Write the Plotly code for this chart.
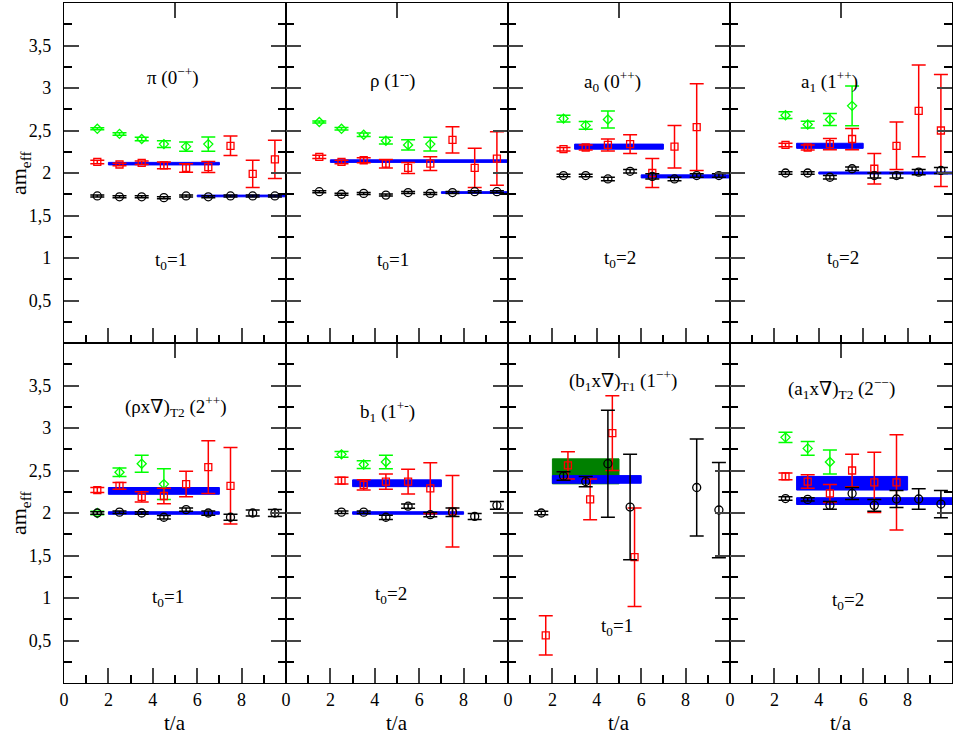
import plotly.graph_objects as go
from plotly.subplots import make_subplots

# --- data: t/a, am_eff, error ---
t_full = [1.5, 2.5, 3.5, 4.5, 5.5, 6.5, 7.5, 8.5, 9.5]
t_from2 = [2.5, 3.5, 4.5, 5.5, 6.5, 7.5, 8.5, 9.5]

# pi (0-+)
pi_black = [1.73, 1.72, 1.72, 1.71, 1.73, 1.72, 1.73, 1.73, 1.73]
pi_black_err = [0.012, 0.012, 0.012, 0.012, 0.012, 0.012, 0.012, 0.012, 0.012]
pi_red = [2.13, 2.10, 2.12, 2.09, 2.06, 2.07, 2.32, 1.99, 2.16]
pi_red_err = [0.02, 0.015, 0.02, 0.04, 0.05, 0.065, 0.115, 0.16, 0.225]
pi_green_t = [1.5, 2.5, 3.5, 4.5, 5.5, 6.5]
pi_green = [2.52, 2.46, 2.40, 2.34, 2.31, 2.34]
pi_green_err = [0.012, 0.015, 0.02, 0.04, 0.055, 0.085]

# rho (1--)
rho_black = [1.78, 1.75, 1.76, 1.74, 1.77, 1.76, 1.77, 1.78, 1.78]
rho_black_err = [0.012, 0.012, 0.012, 0.012, 0.012, 0.012, 0.012, 0.012, 0.012]
rho_red = [2.19, 2.13, 2.15, 2.11, 2.06, 2.11, 2.39, 2.06, 2.17]
rho_red_err = [0.02, 0.02, 0.03, 0.05, 0.065, 0.08, 0.155, 0.23, 0.315]
rho_green_t = [1.5, 2.5, 3.5, 4.5, 5.5, 6.5]
rho_green = [2.60, 2.52, 2.45, 2.38, 2.33, 2.34]
rho_green_err = [0.012, 0.015, 0.02, 0.04, 0.06, 0.08]

# a0 (0++)
a0_black = [1.97, 1.97, 1.93, 2.02, 1.96, 1.93, 1.97, 1.97]
a0_black_err = [0.015, 0.015, 0.02, 0.02, 0.03, 0.02, 0.02, 0.02]
a0_red_t = [2.5, 3.5, 4.5, 5.5, 6.5, 7.5, 8.5]
a0_red = [2.28, 2.30, 2.33, 2.34, 2.00, 2.31, 2.54]
a0_red_err = [0.02, 0.03, 0.07, 0.11, 0.17, 0.25, 0.51]
a0_green_t = [2.5, 3.5, 4.5]
a0_green = [2.64, 2.56, 2.63]
a0_green_err = [0.04, 0.045, 0.1]

# a1 (1++)
a1_black = [2.00, 2.00, 1.95, 2.05, 1.97, 1.97, 2.01, 2.03]
a1_black_err = [0.015, 0.015, 0.02, 0.02, 0.03, 0.03, 0.03, 0.035]
a1_red = [2.33, 2.30, 2.34, 2.40, 2.05, 2.32, 2.73, 2.50]
a1_red_err = [0.02, 0.03, 0.065, 0.125, 0.18, 0.28, 0.54, 0.66]
a1_green_t = [2.5, 3.5, 4.5, 5.5]
a1_green = [2.68, 2.57, 2.63, 2.79]
a1_green_err = [0.04, 0.04, 0.07, 0.235]

# (rho x nabla)_T2 (2++)
rn_black = [2.00, 2.01, 2.00, 1.95, 2.04, 2.00, 1.95, 2.00, 2.00]
rn_black_err = [0.015, 0.015, 0.015, 0.02, 0.02, 0.025, 0.035, 0.035, 0.04]
rn_red_t = [1.5, 2.5, 3.5, 4.5, 5.5, 6.5, 7.5]
rn_red = [2.27, 2.32, 2.19, 2.20, 2.34, 2.54, 2.32]
rn_red_err = [0.03, 0.04, 0.06, 0.09, 0.15, 0.31, 0.45]
rn_green_t = [1.5, 2.5, 3.5, 4.5]
rn_green = [2.00, 2.48, 2.58, 2.34]
rn_green_err = [0.02, 0.05, 0.1, 0.18]

# b1 (1+-)
b1_black = [2.01, 2.01, 1.95, 2.08, 1.98, 2.01, 1.96, 2.09]
b1_black_err = [0.015, 0.015, 0.025, 0.025, 0.025, 0.05, 0.035, 0.045]
b1_red_t = [2.5, 3.5, 4.5, 5.5, 6.5, 7.5]
b1_red = [2.38, 2.33, 2.37, 2.37, 2.29, 2.02]
b1_red_err = [0.04, 0.06, 0.09, 0.145, 0.3, 0.42]
b1_green_t = [2.5, 3.5, 4.5]
b1_green = [2.69, 2.57, 2.60]
b1_green_err = [0.035, 0.045, 0.08]

# (b1 x nabla)_T1 (1-+)
bn_black_t = [1.5, 2.5, 3.5, 4.5, 5.5, 8.5, 9.5]
bn_black = [2.00, 2.435, 2.37, 2.58, 2.07, 2.30, 2.035]
bn_black_err = [0.02, 0.05, 0.06, 0.63, 0.62, 0.57, 0.56]
bn_red_t = [1.7, 2.7, 3.7, 4.7, 5.7]
bn_red = [0.56, 2.56, 2.16, 2.94, 1.48]
bn_red_err = [0.23, 0.16, 0.24, 0.44, 0.58]

# (a1 x nabla)_T2 (2--)
an_black = [2.17, 2.16, 2.09, 2.23, 2.09, 2.165, 2.165, 2.105]
an_black_err = [0.02, 0.02, 0.045, 0.07, 0.07, 0.1, 0.12, 0.16]
an_red_t = [2.5, 3.5, 4.5, 5.5, 6.5, 7.5]
an_red = [2.43, 2.37, 2.23, 2.50, 2.36, 2.36]
an_red_err = [0.04, 0.08, 0.105, 0.19, 0.355, 0.56]
an_green_t = [2.5, 3.5, 4.5]
an_green = [2.89, 2.76, 2.60]
an_green_err = [0.06, 0.08, 0.14]

# fit bands: (t_start, t_end, value, half width, colour)
BLUE = "#0000ff"
DGREEN = "#008000"
pi_fits = [(2, 7, 2.11, 0.015, BLUE), (6, 10, 1.73, 0.01, BLUE)]
rho_fits = [(2, 10, 2.14, 0.015, BLUE), (7, 10, 1.77, 0.01, BLUE)]
a0_fits = [(3, 7, 2.31, 0.03, BLUE), (6, 10, 1.96, 0.018, BLUE)]
a1_fits = [(3, 6, 2.32, 0.03, BLUE), (4, 10, 2.00, 0.012, BLUE)]
rn_fits = [(2, 7, 2.26, 0.04, BLUE), (2, 7, 2.00, 0.015, BLUE)]
b1_fits = [(3, 7, 2.35, 0.04, BLUE), (3, 8, 2.00, 0.015, BLUE)]
bn_fits = [(2, 5, 2.49, 0.147, DGREEN), (2, 6, 2.395, 0.045, BLUE)]
an_fits = [(3, 8, 2.35, 0.08, BLUE), (3, 10, 2.14, 0.04, BLUE)]

panels = [
    dict(black=(t_full, pi_black, pi_black_err), red=(t_full, pi_red, pi_red_err),
         green=(pi_green_t, pi_green, pi_green_err), fits=pi_fits,
         title="π (0<sup>−+</sup>)", tpos=(4.9, 3.14), t0="t<sub>0</sub>=1", t0pos=(4.8, 0.97)),
    dict(black=(t_full, rho_black, rho_black_err), red=(t_full, rho_red, rho_red_err),
         green=(rho_green_t, rho_green, rho_green_err), fits=rho_fits,
         title="ρ (1<sup>--</sup>)", tpos=(4.8, 3.1), t0="t<sub>0</sub>=1", t0pos=(4.8, 0.97)),
    dict(black=(t_from2, a0_black, a0_black_err), red=(a0_red_t, a0_red, a0_red_err),
         green=(a0_green_t, a0_green, a0_green_err), fits=a0_fits,
         title="a<sub>0</sub> (0<sup>++</sup>)", tpos=(4.7, 3.08), t0="t<sub>0</sub>=2", t0pos=(5.05, 0.99)),
    dict(black=(t_from2, a1_black, a1_black_err), red=(t_from2, a1_red, a1_red_err),
         green=(a1_green_t, a1_green, a1_green_err), fits=a1_fits,
         title="a<sub>1</sub> (1<sup>++</sup>)", tpos=(4.5, 3.08), t0="t<sub>0</sub>=2", t0pos=(5.1, 0.99)),
    dict(black=(t_full, rn_black, rn_black_err), red=(rn_red_t, rn_red, rn_red_err),
         green=(rn_green_t, rn_green, rn_green_err), fits=rn_fits,
         title="(ρx∇)<sub>T2</sub> (2<sup>++</sup>)", tpos=(5.05, 3.25), t0="t<sub>0</sub>=1", t0pos=(4.7, 1.0)),
    dict(black=(t_from2, b1_black, b1_black_err), red=(b1_red_t, b1_red, b1_red_err),
         green=(b1_green_t, b1_green, b1_green_err), fits=b1_fits,
         title="b<sub>1</sub> (1<sup>+-</sup>)", tpos=(4.55, 3.19), t0="t<sub>0</sub>=2", t0pos=(4.75, 1.03)),
    dict(black=(bn_black_t, bn_black, bn_black_err), red=(bn_red_t, bn_red, bn_red_err),
         green=None, fits=bn_fits,
         title="(b<sub>1</sub>x∇)<sub>T1</sub> (1<sup>−+</sup>)", tpos=(5.2, 3.56), t0="t<sub>0</sub>=1", t0pos=(4.9, 0.66)),
    dict(black=(t_from2, an_black, an_black_err), red=(an_red_t, an_red, an_red_err),
         green=(an_green_t, an_green, an_green_err), fits=an_fits,
         title="(a<sub>1</sub>x∇)<sub>T2</sub> (2<sup>−−</sup>)", tpos=(5.0, 3.47), t0="t<sub>0</sub>=2", t0pos=(5.3, 0.96)),
]

FONT = "Liberation Serif, Times New Roman, DejaVu Serif, serif"

fig = make_subplots(rows=2, cols=4, horizontal_spacing=0, vertical_spacing=0)


def points(t, y, err, color, symbol, size):
    return go.Scatter(
        x=t, y=y, mode="markers",
        marker=dict(symbol=symbol, size=size, color=color, line=dict(color=color, width=1.3)),
        error_y=dict(type="data", array=err, color=color, thickness=1.5, width=7),
        showlegend=False, hoverinfo="x+y")


for i, p in enumerate(panels):
    r, c = i // 4 + 1, i % 4 + 1
    # bands first, points drawn on top
    for t0, t1, v, h, col in p["fits"]:
        fig.add_trace(go.Scatter(
            x=[t0, t1, t1, t0, t0], y=[v - h, v - h, v + h, v + h, v - h],
            mode="lines", fill="toself", fillcolor=col, line=dict(color=col, width=1),
            showlegend=False, hoverinfo="skip"), row=r, col=c)
    if p["green"] is not None:
        fig.add_trace(points(*p["green"], "#00ff00", "diamond-open", 7), row=r, col=c)
    fig.add_trace(points(*p["red"], "#ff0000", "square-open", 7), row=r, col=c)
    fig.add_trace(points(*p["black"], "#000000", "circle-open", 8), row=r, col=c)

    n = "" if i == 0 else str(i + 1)
    fig.add_annotation(x=p["tpos"][0], y=p["tpos"][1], xref="x" + n, yref="y" + n,
                       text=p["title"], showarrow=False, font=dict(family=FONT, size=19))
    fig.add_annotation(x=p["t0pos"][0], y=p["t0pos"][1], xref="x" + n, yref="y" + n,
                       text=p["t0"], showarrow=False, font=dict(family=FONT, size=19))
    # single tick on the top edge at t/a = 5
    fig.add_shape(type="line", xref="x" + n, yref="y" + n + " domain",
                  x0=5, x1=5, y0=1, y1=1 - 15 / 340, line=dict(color="black", width=1.5))
    if r == 2:
        fig.add_annotation(x=5, y=-0.059, xref="x" + n, yref="paper", text="t/a",
                           xanchor="center", yanchor="middle",
                           showarrow=False, font=dict(family=FONT, size=21))

    fig.update_xaxes(range=[0, 10], tickvals=[0, 2, 4, 6, 8], ticks="inside", ticklen=15,
                     tickwidth=1.5, showline=True, mirror=True, linecolor="black", linewidth=1.1,
                     showgrid=False, zeroline=False, showticklabels=(r == 2),
                     minor=dict(tickvals=[1, 3, 5, 7, 9], ticks="inside", ticklen=8,
                                tickwidth=1.5, tickcolor="black"),
                     tickfont=dict(family=FONT, size=18, color="black"), row=r, col=c)
    fig.update_yaxes(range=[0, 4], tickvals=[0.5, 1, 1.5, 2, 2.5, 3, 3.5],
                     ticktext=["0,5", "1", "1,5", "2", "2,5", "3", "3,5"],
                     ticks="inside", ticklen=15, tickwidth=1.5, showline=True, mirror="ticks",
                     linecolor="black", linewidth=1.1, showgrid=False, zeroline=False,
                     showticklabels=(c == 1), ticklabelstandoff=8,
                     minor=dict(tickvals=[0.25, 0.75, 1.25, 1.75, 2.25, 2.75, 3.25, 3.75],
                                ticks="inside", ticklen=8, tickwidth=1.5, tickcolor="black"),
                     tickfont=dict(family=FONT, size=18, color="black"), row=r, col=c)

for yc in [0.75, 0.25]:
    fig.add_annotation(x=-0.0495, y=yc, xref="paper", yref="paper", text="am<sub>eff</sub>",
                       textangle=-90, xanchor="center", yanchor="middle",
                       showarrow=False, font=dict(family=FONT, size=22))

fig.update_layout(
    width=957, height=734,
    margin=dict(l=64, r=5, t=3, b=51),
    paper_bgcolor="white", plot_bgcolor="white",
    font=dict(family=FONT, color="black"),
)

# page body has a default 8px margin; drop it so the figure sits at the window corner
fig.write_html("out.html", config={"displayModeBar": False},
               post_script="document.body.style.margin='0px';")
